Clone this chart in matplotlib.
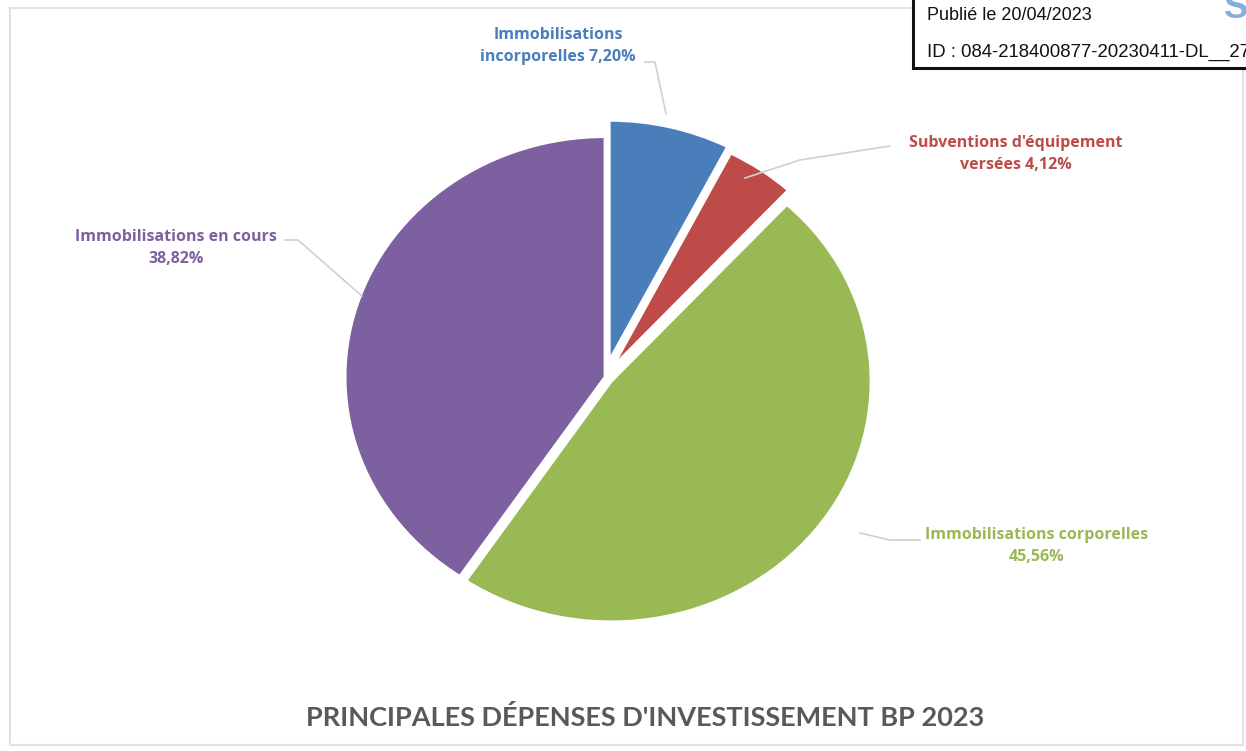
import matplotlib.pyplot as plt
from matplotlib.patches import Rectangle

# data
labels = ["Immobilisations\nincorporelles 7,20%", "Subventions d'équipement\nversées 4,12%",
          "Immobilisations corporelles\n45,56%", "Immobilisations en cours\n38,82%"]
values = [7.20, 4.12, 45.56, 38.82]
colors = ["#4a7ebb", "#be4b48", "#98b954", "#7d60a0"]
explode = [0.07, 0.05, 0.03, 0.0]

fig = plt.figure(figsize=(12.46, 7.51), dpi=100)


def px(x, y):
    return x / 1246, 1 - y / 751


# faint outer frame
fig.add_artist(Rectangle((10 / 1246, 6 / 751), 1233 / 1246, 737 / 751, transform=fig.transFigure,
                         fill=False, edgecolor="#e2e2e2", lw=1.5))

# pie slightly wider than tall, like the source
ax = fig.add_axes([605 / 1246 - 0.219, 1 - 377 / 751 - 0.336, 0.438, 0.672])
wedges, _ = ax.pie(values, colors=colors, explode=explode, startangle=90, counterclock=False,
                   wedgeprops=dict(edgecolor="white", linewidth=2))
ax.set_aspect("auto")
ax.set_xlim(-1.05, 1.05)
ax.set_ylim(-1.05, 1.05)
ax.axis("off")

# labels: text position (figure px) and leader line points (figure px)
lab_pos = [(558, 46), (1016, 154), (1037, 546), (176, 248)]
leaders = [[(645, 62), (655, 62), (666, 114)],
           [(890, 146), (800, 160), (745, 178)],
           [(920, 540), (890, 540), (860, 533)],
           [(285, 240), (298, 240), (362, 296)]]

for lab, (x, y), col, pts in zip(labels, lab_pos, colors, leaders):
    fig.text(*px(x, y), lab, ha="center", va="center", color=col, fontsize=11.5,
             fontweight="bold", family="Open Sans", linespacing=1.45)
    xs = [px(a, b)[0] for a, b in pts]
    ys = [px(a, b)[1] for a, b in pts]
    fig.add_artist(plt.Line2D(xs, ys, transform=fig.transFigure, color="#d0d0d0", lw=1.2))

fig.text(*px(645, 717), "PRINCIPALES DÉPENSES D'INVESTISSEMENT BP 2023", ha="center", va="center",
         color="#595959", fontsize=19.5, fontweight="bold", family="Lato")

# stamp box top right
fig.add_artist(Rectangle(px(913, 68), 400 / 1246, 100 / 751, transform=fig.transFigure,
                         fill=True, facecolor="white", edgecolor="#111111", lw=2.2))
fig.text(*px(927, 16), "Publié le 20/04/2023", ha="left", va="center", fontsize=13,
         family="Liberation Sans", color="#111111")
fig.text(*px(927, 52), "ID : 084-218400877-20230411-DL__27", ha="left", va="center", fontsize=13.4,
         family="Liberation Sans", color="#111111")
fig.text(*px(1224, 8), "S", ha="left", va="center", fontsize=26, fontweight="bold",
         family="Liberation Sans", color="#7fb0e0")

fig.savefig("out.png", dpi=100)
